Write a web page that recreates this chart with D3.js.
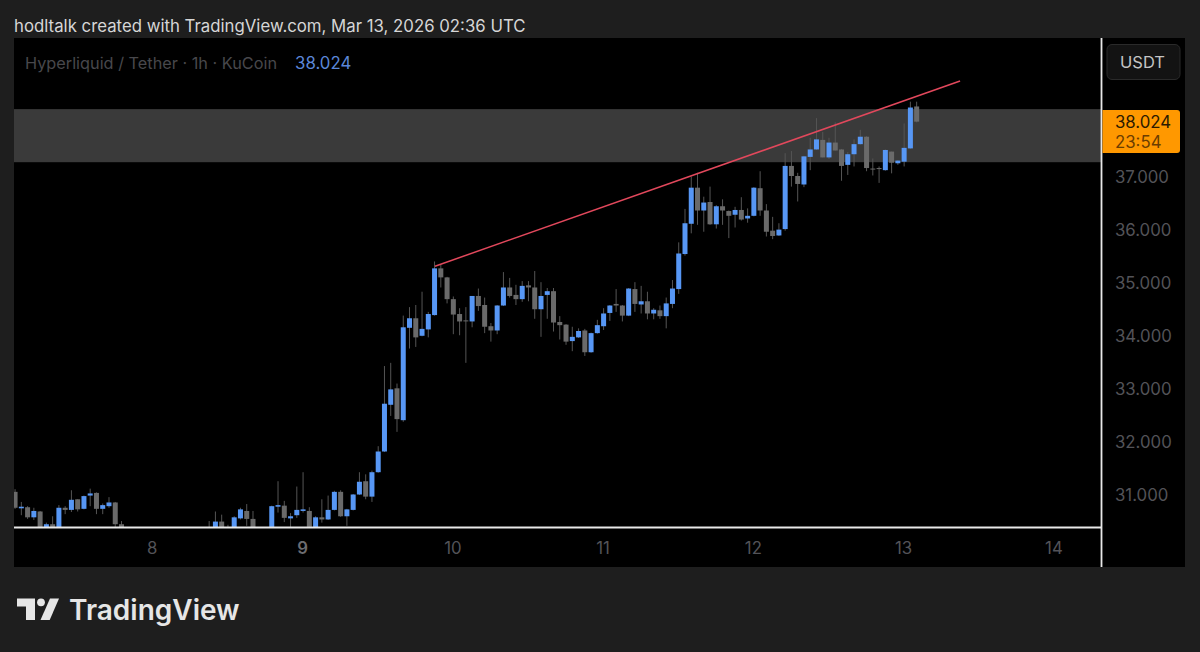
<!DOCTYPE html>
<html>
<head>
<meta charset="utf-8">
<style>
  html, body { margin: 0; padding: 0; background: #1e1e1e; overflow: hidden; }
  text { font-family: Inter, "Noto Sans", sans-serif; }
</style>
</head>
<body>
<div id="chart"></div>
<script src="https://cdnjs.cloudflare.com/ajax/libs/d3/7.8.5/d3.min.js"></script>
<script>
// Hourly candles from Mar 7 02:00 UTC.
// The ones around index 18-30 and 39-40 sit below the visible pane, so they are rough guesses.
var opens = [31.05,30.74,30.76,30.57,30.68,30.33,30.44,30.35,30.75,30.71,30.91,30.73,30.98,31.03,30.73,30.78,30.85,30.44,
  30.33,30.15,30.22,30.08,29.98,30.05,30.10,30.04,29.95,30.02,30.14,30.10,30.20,30.30,30.33,30.49,30.30,30.33,30.55,30.69,30.54,
  30.33,30.18,30.33,30.77,30.79,30.55,30.61,30.69,30.69,30.38,30.57,30.53,30.71,31.05,30.59,30.71,31.00,31.25,30.96,31.42,31.81,
  32.69,33.00,32.40,34.14,34.32,33.99,34.11,34.38,35.26,35.09,34.68,34.40,34.28,34.26,34.74,34.57,34.17,34.09,34.56,34.90,34.76,
  34.68,34.94,34.90,34.49,34.76,34.83,34.25,34.20,33.89,33.96,34.09,33.68,34.04,34.17,34.42,34.59,34.56,34.37,34.87,34.58,34.64,
  34.41,34.47,34.36,34.59,34.87,35.53,36.10,36.78,36.35,36.51,36.09,36.43,36.34,36.27,36.36,36.20,36.25,36.77,36.35,35.97,35.88,
  36.00,37.19,37.00,36.84,37.36,37.50,37.68,37.35,37.63,37.50,37.21,37.41,37.60,37.74,37.14,37.15,37.11,37.46,37.24,37.27,37.52,38.31];
var highs = [31.10,30.86,30.78,30.75,30.69,30.47,30.59,30.80,30.78,31.08,30.91,30.98,31.11,31.04,30.83,30.95,30.86,30.50,
  30.36,30.28,30.30,30.20,30.12,30.18,30.25,30.15,30.10,30.20,30.26,30.28,30.33,30.50,30.68,30.62,30.43,30.59,30.75,30.82,30.69,
  30.37,30.30,30.79,31.25,30.88,30.65,31.15,31.42,30.76,30.59,30.91,30.98,31.07,31.08,30.73,31.01,31.42,31.38,31.45,31.91,33.42,
  33.48,33.09,34.37,34.53,34.57,34.82,34.44,35.39,35.34,35.10,34.73,34.51,34.53,34.74,34.88,34.71,34.23,34.57,35.19,35.08,34.95,
  35.02,35.02,35.21,35.00,34.89,34.89,34.36,34.21,34.16,34.13,34.12,34.05,34.29,34.51,34.57,34.87,34.57,34.89,35.00,34.93,34.82,
  34.51,34.56,34.71,35.04,35.75,36.38,36.99,37.06,36.61,36.80,36.45,36.56,36.35,36.42,36.60,36.39,36.79,37.09,36.47,36.23,36.11,
  37.43,37.47,37.06,37.38,37.72,38.09,37.83,37.72,38.01,37.51,37.45,37.69,37.87,37.75,37.33,37.18,37.50,37.46,37.30,37.99,38.40,38.40];
var lows = [30.73,30.61,30.54,30.52,30.26,30.29,30.27,30.31,30.63,30.67,30.68,30.72,30.78,30.63,30.63,30.75,30.37,30.29,
  30.10,30.02,30.05,29.90,29.85,29.95,30.00,29.88,29.82,29.96,30.05,30.02,30.08,30.10,30.29,30.27,30.12,30.29,30.53,30.41,30.29,
  30.12,30.05,30.22,30.66,30.48,30.35,30.56,30.66,30.37,30.37,30.47,30.52,30.70,30.58,30.41,30.70,30.99,30.91,30.86,31.41,31.80,
  32.48,32.18,32.37,33.75,33.78,33.98,33.96,34.37,34.90,34.60,34.02,34.00,33.48,34.15,34.46,34.04,33.88,34.02,34.55,34.71,34.57,
  34.63,34.64,34.31,33.97,34.31,34.07,33.92,33.82,33.70,33.95,33.61,33.67,34.03,34.10,34.27,34.44,34.26,34.36,34.44,34.41,34.30,
  34.30,34.31,34.13,34.51,34.78,35.50,35.92,36.08,35.95,36.08,36.01,36.08,35.83,36.03,36.16,36.12,36.24,36.25,35.86,35.81,35.87,
  35.97,36.80,36.52,36.79,37.11,37.49,37.35,37.32,37.48,36.91,37.02,37.18,37.59,37.09,37.01,36.87,37.10,37.05,37.21,37.18,37.51,38.01];
var closes = [30.75,30.77,30.57,30.69,30.33,30.44,30.33,30.75,30.71,30.90,30.72,30.97,31.02,30.73,30.80,30.85,30.44,30.33,
  30.15,30.22,30.08,29.98,30.05,30.10,30.04,29.95,30.02,30.14,30.10,30.20,30.16,30.20,30.49,30.33,30.22,30.57,30.72,30.54,30.33,
  30.18,30.24,30.78,30.80,30.56,30.59,30.71,30.72,30.39,30.57,30.53,30.71,31.05,30.59,30.72,31.00,31.24,30.96,31.42,31.81,32.71,
  32.98,32.42,34.15,34.32,33.96,34.12,34.40,35.26,35.09,34.68,34.39,34.26,34.27,34.74,34.55,34.16,34.09,34.56,34.90,34.74,34.68,
  34.93,34.90,34.49,34.74,34.83,34.24,34.19,33.88,33.97,34.08,33.68,34.04,34.19,34.41,34.56,34.56,34.37,34.88,34.59,34.64,34.41,
  34.48,34.36,34.60,34.88,35.54,36.11,36.78,36.35,36.50,36.09,36.43,36.35,36.25,36.36,36.18,36.25,36.78,36.35,35.95,35.87,35.99,
  37.19,37.00,36.85,37.37,37.50,37.69,37.35,37.63,37.48,37.19,37.41,37.60,37.74,37.15,37.13,37.13,37.49,37.25,37.29,37.53,38.29,38.024];

var priceTicks = [31, 32, 33, 34, 35, 36, 37];
var dayTicks = [8, 9, 10, 11, 12, 13, 14];
var lastPrice = 38.024;
var countdown = "23:54";

// grey zone and the red trendline (hour index, price)
var zoneTop = 38.26;
var zoneBottom = 37.26;
var trendHours = [67.07, 150.93];
var trendPrices = [35.30, 38.79];

var svgWidth = 1200;
var svgHeight = 652;

var pane = { left: 14, right: 1101.5, top: 38, bottom: 527.5 };

var svg = d3.select("#chart")
    .append("svg")
    .attr("width", svgWidth)
    .attr("height", svgHeight)
    .style("display", "block");

// hour 0 is Mar 7 02:00, so Mar 8 00:00 is hour 22
function dayToHour(day) {
    return (day - 8) * 24 + 22;
}

var xScale = d3.scaleLinear()
    .domain([0, 144])
    .range([15.07, 916.65]);

var yScale = d3.scaleLinear()
    .domain([31, 37])
    .range([494.5, 176]);

// page title
svg.append("text")
    .attr("x", 14)
    .attr("y", 31.5)
    .attr("fill", "#d6d6d6")
    .style("font-size", "16.8px")
    .text("hodltalk created with TradingView.com, Mar 13, 2026 02:36 UTC");

// black chart area
svg.append("rect")
    .attr("x", 14)
    .attr("y", 38)
    .attr("width", 1171)
    .attr("height", 529)
    .attr("fill", "#000000");

svg.append("clipPath")
    .attr("id", "paneClip")
    .append("rect")
    .attr("x", pane.left)
    .attr("y", pane.top)
    .attr("width", pane.right - pane.left)
    .attr("height", pane.bottom - pane.top);

var chartGroup = svg.append("g")
    .attr("clip-path", "url(#paneClip)");

// zone
chartGroup.append("rect")
    .attr("x", pane.left)
    .attr("width", pane.right - pane.left)
    .attr("y", yScale(zoneTop))
    .attr("height", yScale(zoneBottom) - yScale(zoneTop))
    .attr("fill", "#3a3a3a");

var hours = d3.range(opens.length);
var blue = "#5797f5";
var grey = "#6a6a6a";
var bodyWidth = 5;

// wicks
chartGroup.selectAll(".wick")
    .data(hours)
    .enter()
    .append("line")
    .attr("class", "wick")
    .attr("x1", d => xScale(d))
    .attr("x2", d => xScale(d))
    .attr("y1", d => yScale(highs[d]))
    .attr("y2", d => yScale(lows[d]))
    .attr("stroke", "#555555")
    .attr("stroke-width", 1);

// bodies
chartGroup.selectAll(".body")
    .data(hours)
    .enter()
    .append("rect")
    .attr("class", "body")
    .attr("x", d => xScale(d) - bodyWidth / 2)
    .attr("width", bodyWidth)
    .attr("y", d => yScale(Math.max(opens[d], closes[d])))
    .attr("height", d => Math.max(1, Math.abs(yScale(opens[d]) - yScale(closes[d]))))
    .attr("fill", d => closes[d] >= opens[d] ? blue : grey);

// trendline
chartGroup.append("line")
    .attr("x1", xScale(trendHours[0]))
    .attr("y1", yScale(trendPrices[0]))
    .attr("x2", xScale(trendHours[1]))
    .attr("y2", yScale(trendPrices[1]))
    .attr("stroke", "#e2485c")
    .attr("stroke-width", 1.5);

// legend
var legend = svg.append("text")
    .attr("x", 25)
    .attr("y", 69)
    .style("font-size", "16.3px");
legend.append("tspan")
    .attr("fill", "#48484c")
    .text("Hyperliquid / Tether · 1h · KuCoin");
legend.append("tspan")
    .attr("dx", 18)
    .attr("fill", "#5b87d8")
    .style("font-size", "16.8px")
    .text(d3.format(".3f")(lastPrice));

// axes
var rightAxis = d3.axisRight(yScale)
    .tickValues(priceTicks)
    .tickSize(0)
    .tickPadding(13.5)
    .tickFormat(d3.format(".3f"));

var yAxis = svg.append("g")
    .attr("transform", `translate(${pane.right}, 0.8)`)
    .call(rightAxis);
yAxis.select(".domain").remove();
yAxis.selectAll("text")
    .attr("fill", "#535358")
    .style("font-size", "16.8px");

var bottomAxis = d3.axisBottom(xScale)
    .tickValues(dayTicks.map(dayToHour))
    .tickSize(0)
    .tickPadding(15)
    .tickFormat((d, i) => dayTicks[i]);

var xAxis = svg.append("g")
    .attr("transform", `translate(-1, ${pane.bottom})`)
    .call(bottomAxis);
xAxis.select(".domain").remove();
xAxis.selectAll("text")
    .attr("fill", (d, i) => dayTicks[i] === 9 ? "#6c6c70" : "#535358")
    .style("font-weight", (d, i) => dayTicks[i] === 9 ? 600 : 400)
    .style("font-size", "16.8px");

// white pane borders
svg.append("line")
    .attr("x1", pane.left).attr("x2", pane.right)
    .attr("y1", pane.bottom).attr("y2", pane.bottom)
    .attr("stroke", "#e8e8e8")
    .attr("stroke-width", 1.8);
svg.append("line")
    .attr("x1", pane.right).attr("x2", pane.right)
    .attr("y1", pane.top).attr("y2", 567)
    .attr("stroke", "#e8e8e8")
    .attr("stroke-width", 1.8);

// USDT button
svg.append("rect")
    .attr("x", 1107)
    .attr("y", 44.5)
    .attr("width", 73)
    .attr("height", 35)
    .attr("rx", 5)
    .attr("fill", "#131313")
    .attr("stroke", "#2a2a2a");
svg.append("text")
    .attr("x", 1142.5)
    .attr("y", 62)
    .attr("dy", "0.36em")
    .attr("text-anchor", "middle")
    .attr("fill", "#c4c4c4")
    .style("font-size", "16.5px")
    .text("USDT");

// last price tag
svg.append("path")
    .attr("d", "M1102.5,110H1177a3,3 0 0 1 3,3V150a3,3 0 0 1 -3,3H1102.5Z")
    .attr("fill", "#ff9800");
svg.append("text")
    .attr("x", 1115)
    .attr("y", yScale(lastPrice) + 0.8)
    .attr("dy", "0.36em")
    .attr("fill", "#2c1a00")
    .style("font-size", "16.8px")
    .text(d3.format(".3f")(lastPrice));
svg.append("text")
    .attr("x", 1115)
    .attr("y", 142)
    .attr("dy", "0.36em")
    .attr("fill", "#6b3d00")
    .style("font-size", "16.8px")
    .text(countdown);

// TradingView logo
var logo = svg.append("g").attr("fill", "#e6e6e6");
logo.append("path").attr("d", "M17,598.5H35V620H26V606.5H17Z");
logo.append("circle").attr("cx", 41).attr("cy", 602.3).attr("r", 3.9);
logo.append("path").attr("d", "M50,598.5H59L49.7,620H40.5Z");
logo.append("text")
    .attr("x", 69)
    .attr("y", 620)
    .attr("fill", "#e6e6e6")
    .style("font-size", "28px")
    .style("font-weight", 600)
    .text("TradingView");
</script>
</body>
</html>
